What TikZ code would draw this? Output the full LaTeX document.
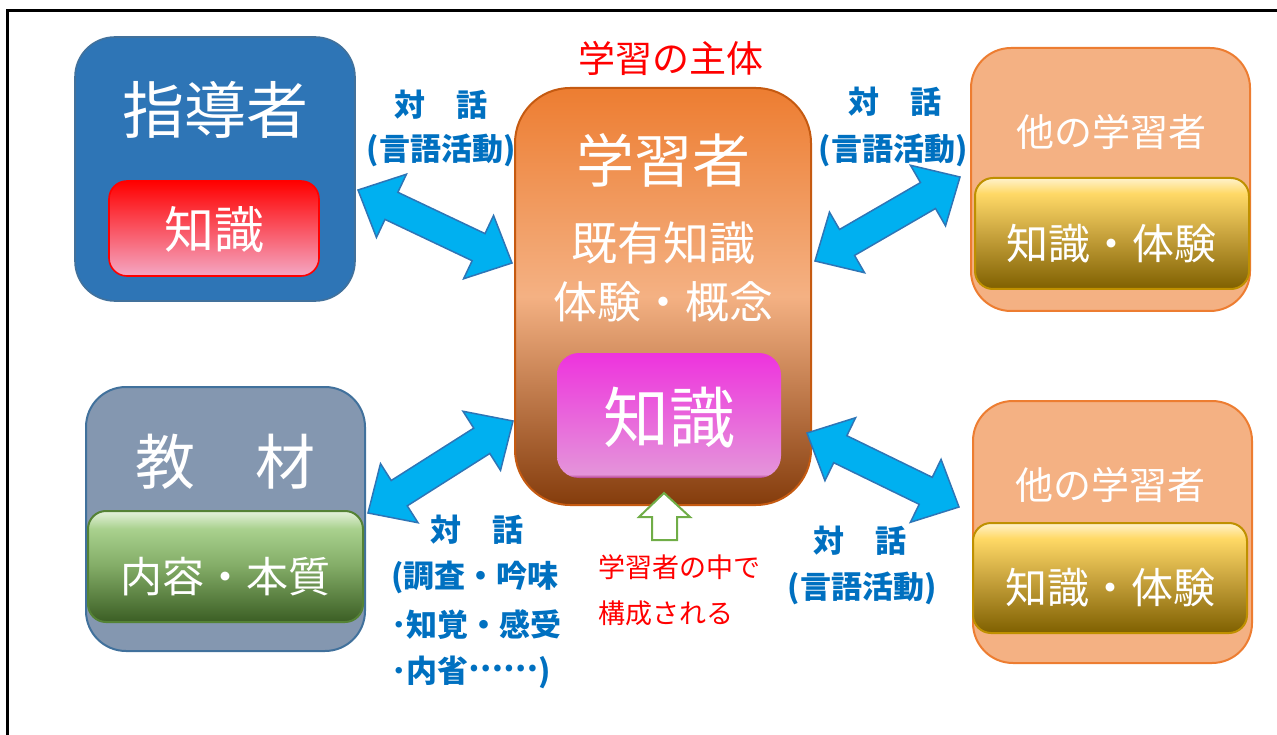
\documentclass[tikz,border=0pt]{standalone}
\usepackage{fontspec}
\setmainfont{Noto Sans CJK JP}
\usetikzlibrary{calc}
\definecolor{shidoF}{HTML}{2E75B6}
\definecolor{shidoD}{HTML}{41719C}
\definecolor{kyoF}{HTML}{8497B0}
\definecolor{otherF}{HTML}{F4B183}
\definecolor{otherD}{HTML}{ED7D31}
\definecolor{centerD}{HTML}{C55A11}
\definecolor{orT}{HTML}{ED7D31}
\definecolor{orM}{HTML}{F4B183}
\definecolor{orB}{HTML}{843C0C}
\definecolor{goldD}{HTML}{7F6000}
\definecolor{goldM}{HTML}{C9A43E}
\definecolor{goldY}{HTML}{FFD966}
\definecolor{goldL}{HTML}{FFF2CC}
\definecolor{goldE}{HTML}{BF9000}
\definecolor{grD}{HTML}{3B5E24}
\definecolor{grM}{HTML}{82AB66}
\definecolor{grY}{HTML}{A9D18E}
\definecolor{grL}{HTML}{E5F2DC}
\definecolor{grE}{HTML}{548235}
\definecolor{pkT}{HTML}{EE33DD}
\definecolor{pkB}{HTML}{E494DA}
\definecolor{pkE}{HTML}{B03A86}
\definecolor{rdB}{HTML}{F4A7C3}
\definecolor{arrF}{HTML}{00B0F0}
\definecolor{arrD}{HTML}{2E75B6}
\definecolor{lblBlue}{HTML}{0070C0}
\definecolor{upG}{HTML}{70AD47}
\pgfdeclareverticalshading{goldsh}{100bp}{color(0bp)=(goldD); color(25bp)=(goldD); color(50bp)=(goldM); color(68bp)=(goldY); color(75bp)=(goldL); color(100bp)=(goldL)}
\pgfdeclareverticalshading{greensh}{100bp}{color(0bp)=(grD); color(25bp)=(grD); color(50bp)=(grM); color(67bp)=(grY); color(75bp)=(grL); color(100bp)=(grL)}
\pgfdeclareverticalshading{orangesh}{100bp}{color(0bp)=(orB); color(25bp)=(orB); color(50bp)=(orM); color(75bp)=(orT); color(100bp)=(orT)}
\pgfdeclareverticalshading{redsh}{100bp}{color(0bp)=(rdB); color(25bp)=(rdB); color(75bp)=(red); color(100bp)=(red)}
\pgfdeclareverticalshading{pinksh}{100bp}{color(0bp)=(pkE); color(25bp)=(pkE); color(26.5bp)=(pkB); color(75bp)=(pkT); color(100bp)=(pkT)}
\newcommand\dblarr[2]{%
  \draw[arr] (#1) -- ($(#1)!37pt!(#2)!35pt!90:(#2)$) -- ($(#1)!37pt!(#2)!15pt!90:(#2)$)
   -- ($(#2)!37pt!(#1)!15pt!-90:(#1)$) -- ($(#2)!37pt!(#1)!35pt!-90:(#1)$) -- (#2)
   -- ($(#2)!37pt!(#1)!35pt!90:(#1)$) -- ($(#2)!37pt!(#1)!15pt!90:(#1)$)
   -- ($(#1)!37pt!(#2)!15pt!-90:(#2)$) -- ($(#1)!37pt!(#2)!35pt!-90:(#2)$) -- cycle;}
\newcommand\midell{\raisebox{0.33em}{……}}
\begin{document}
\begin{tikzpicture}[x=1pt,y=-1pt,
  every node/.style={inner sep=0pt},
  bigbox/.style={rounded corners=40, line width=1.6},
  inbox/.style={rounded corners=18, line width=1.6},
  wtxt/.style={text=white},
  bluelbl/.style={text=lblBlue, font=\bfseries\fontsize{31}{33}\selectfont},
  redlbl/.style={text=red, font=\fontsize{27}{30}\selectfont},
  arr/.style={fill=arrF, draw=arrD, line width=1.5, line join=miter},
  frameline/.style={line width=3, draw=black}]
\useasboundingbox (0,0) rectangle (1277,735);
\draw[frameline] (1277,11) -- (7,11) -- (7,735);
% boxes
\node[bigbox, fill=shidoF, draw=shidoD, minimum width=280, minimum height=264] (shido) at (215,169) {};
\node[inbox, shading=redsh, draw=red, minimum width=210, minimum height=95] (shidoK) at (214,228.5) {};
\node[bigbox, rounded corners=55, shading=orangesh, draw=centerD, line width=2, minimum width=296, minimum height=417] (learner) at (663,296.5) {};
\node[inbox, rounded corners=22, shading=pinksh, minimum width=224, minimum height=125] (pink) at (669,415.5) {};
\node[bigbox, fill=otherF, draw=otherD, line width=2, minimum width=279, minimum height=263] (other1) at (1110.5,179.5) {};
\node[inbox, shading=goldsh, draw=goldE, line width=2, minimum width=274, minimum height=111] (gold1) at (1112,233.5) {};
\node[bigbox, fill=otherF, draw=otherD, line width=2, minimum width=279, minimum height=262] (other2) at (1112.5,532) {};
\node[inbox, shading=goldsh, draw=goldE, line width=2, minimum width=274, minimum height=110] (gold2) at (1110,578) {};
\node[bigbox, fill=kyoF, draw=shidoD, line width=2, minimum width=279, minimum height=264] (kyozai) at (225.5,519) {};
\node[inbox, shading=greensh, draw=grE, line width=2, minimum width=275, minimum height=111] (green) at (225.5,566.5) {};
% texts
\node[text=red, font=\fontsize{37}{40}\selectfont] (shutai) at (671,58) {学習の主体};
\node[wtxt, font=\fontsize{62}{66}\selectfont] (tShido) at (215,110) {指導者};
\node[wtxt, font=\fontsize{50}{54}\selectfont] (tShidoK) at (214,230) {知識};
\node[wtxt, font=\fontsize{58}{62}\selectfont] (tLearner) at (663,160) {学習者};
\node[wtxt, font=\fontsize{46}{50}\selectfont] (tKiyu) at (663,243) {既有知識};
\node[wtxt, font=\fontsize{44}{50}\selectfont] (tTaiken) at (663,302) {体験・概念};
\node[wtxt, font=\fontsize{66}{70}\selectfont] (tPink) at (669,418) {知識};
\node[wtxt, font=\fontsize{38}{42}\selectfont] (tOther1) at (1111,132) {他の学習者};
\node[wtxt, font=\fontsize{42}{46}\selectfont] (tGold1) at (1111,244) {知識・体験};
\node[wtxt, font=\fontsize{38}{42}\selectfont] (tOther2) at (1110,485) {他の学習者};
\node[wtxt, font=\fontsize{42}{46}\selectfont] (tGold2) at (1110,588) {知識・体験};
\node[wtxt, font=\fontsize{60}{64}\selectfont] (tKyo) at (225,462) {教　材};
\node[wtxt, font=\fontsize{42}{46}\selectfont] (tGreen) at (225,577) {内容・本質};
% blue labels
\node[bluelbl] (d1a) at (441,105) {対　話};
\node[bluelbl] (d1b) at (441,150) {(言語活動)};
\node[bluelbl] (d2a) at (895,102) {対　話};
\node[bluelbl] (d2b) at (893,150) {(言語活動)};
\node[bluelbl] (d3a) at (477,530) {対　話};
\node[bluelbl, anchor=west] (d3b) at (391,577) {(調査・吟味};
\node[bluelbl, anchor=west] (d3c) at (391,625) {･知覚・感受};
\node[bluelbl, anchor=west] (d3d) at (391,672) {･内省\midell)};
\node[bluelbl] (d4a) at (860,541) {対　話};
\node[bluelbl] (d4b) at (862,588) {(言語活動)};
% red labels
\node[redlbl, anchor=west] (r1) at (598,567) {学習者の中で};
\node[redlbl, anchor=west] (r2) at (598,613) {構成される};
% arrows
\coordinate (a1s) at (358,190); \coordinate (a1e) at (512,263);
\coordinate (a2s) at (815,261); \coordinate (a2e) at (960,177);
\coordinate (a3s) at (368,513); \coordinate (a3e) at (513,421);
\coordinate (a4s) at (807,433); \coordinate (a4e) at (959,507);
\dblarr{a1s}{a1e}
\dblarr{a2s}{a2e}
\dblarr{a3s}{a3e}
\dblarr{a4s}{a4e}
% up arrow
\draw[fill=white, draw=upG, line width=2] (664,493) -- (690,517) -- (677,517) -- (677,540) -- (652,540) -- (652,517) -- (639,517) -- cycle;
\end{tikzpicture}
\end{document}
